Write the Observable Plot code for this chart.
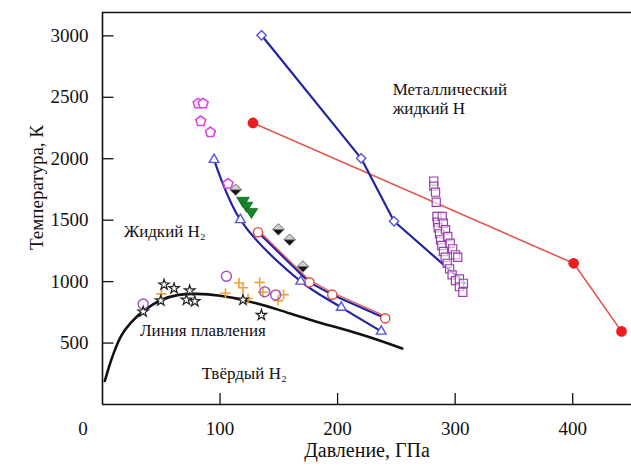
<!DOCTYPE html>
<html><head><meta charset="utf-8">
<script src="https://cdn.jsdelivr.net/npm/d3@7"></script>
<script src="https://cdn.jsdelivr.net/npm/@observablehq/plot@0.6"></script>
<style>body{margin:0;background:#fff} svg{display:block}</style>
</head><body><div id="chart"></div>
<script>
// ---- axis ticks ----
const xTicks = [100, 200, 300, 400];
const yTicks = [500, 1000, 1500, 2000, 2500, 3000];
const xDomain = [0, 450];
const yDomain = [0, 3190];

// ---- series (pressure GPa, temperature K) ----
const blueDiamondP = [135.3, 220, 248, 308];
const blueDiamondT = [3005, 2003, 1491, 988];
const redFilledP = [128, 400.8, 441.5];
const redFilledT = [2291, 1149, 595];
const blueTriP = [94.9, 117.3, 168.6, 203.1, 237.1];
const blueTriT = [1993, 1503, 1002, 790, 595];
const redOpenP = [132.3, 176, 195.5, 240.5];
const redOpenT = [1402, 994, 894, 701];
const pentP = [81.3, 85.6, 83.6, 91.8, 106.8];
const pentT = [2449, 2449, 2305, 2215, 1796];
const blackDiaP = [113.3, 149.6, 159.2, 170.5];
const blackDiaT = [1747, 1424, 1340, 1122];
const greenP = [119.5, 122.5, 126.7];
const greenT = [1655, 1615, 1565];
const plusP = [104.6, 116.1, 119.5, 123.8, 133.7, 136.5, 149.3, 154.1, 50.2];
const plusT = [905, 989, 950, 862, 994, 913, 845, 894, 900];
const purpleCircP = [34.6, 105.4, 138, 147.3];
const purpleCircT = [818, 1043, 918, 892];
const starP = [34.6, 49.6, 52.4, 60.9, 74.2, 71.4, 78.5, 119.5, 135.2];
const starT = [755, 845, 975, 945, 927, 851, 839, 851, 728];
const squareP = [281.8, 281.8, 283.3, 283.9,
  284.5, 285, 285.5, 286.7, 287.5, 288.6, 290, 291.5, 293.2, 295.3, 297.4, 300.3, 303.6, 306.5,
  289, 290, 291.8, 293.7, 295.8, 297.9, 300.3, 302.2, 303.6, 307];
const squareT = [1818, 1777, 1728, 1646,
  1530, 1484, 1438, 1389, 1340, 1294, 1245, 1198, 1149, 1104, 1055, 1008, 959, 913,
  1530, 1475, 1422, 1367, 1312, 1267, 1218, 1198, 1022, 986];
const meltP = [2, 6, 10, 16, 24, 35, 50, 65, 80, 100, 122, 150, 180, 220, 255];
const meltT = [192, 320, 430, 560, 665, 762, 850, 892, 900, 885, 845, 770, 680, 570, 456];

// ---- annotations ----
const annoText = ["Металлический\nжидкий H", "Жидкий H₂", "Линия плавления", "Твёрдый H₂"];
const annoP = [246.8, 18.2, 31.9, 84.5];
const annoT = [2489, 1416, 608, 257];
const xLabel = "Давление, ГПа";
const yLabel = "Температура, К";

const zip = (P, T) => P.map((p, i) => ({p, t: T[i]}));

const pentagon = {draw(ctx, size) {
  const r = Math.sqrt(size / Math.PI);
  for (let i = 0; i < 5; i++) {
    const a = -Math.PI / 2 + i * 2 * Math.PI / 5;
    const x = r * Math.cos(a), y = r * Math.sin(a);
    i ? ctx.lineTo(x, y) : ctx.moveTo(x, y);
  }
  ctx.closePath();
}};
const triDown = {draw(ctx, size) {
  const r = Math.sqrt(size / Math.PI) * 1.15;
  ctx.moveTo(-r, -r * 0.6); ctx.lineTo(r, -r * 0.6); ctx.lineTo(0, r); ctx.closePath();
}};
const diaTop = {draw(ctx, size) {
  const r = Math.sqrt(size / Math.PI) * 1.15;
  ctx.moveTo(-r, 0); ctx.lineTo(0, -r); ctx.lineTo(r, 0); ctx.closePath();
}};
const diaFull = {draw(ctx, size) {
  const r = Math.sqrt(size / Math.PI) * 1.15;
  ctx.moveTo(-r, 0); ctx.lineTo(0, -r); ctx.lineTo(r, 0); ctx.lineTo(0, r); ctx.closePath();
}};

const F = "Liberation Serif, DejaVu Serif, serif";
const navy = "#2323a3";
const lightBlue = "#5555dd";
const fmt = (d) => String(d);

const chart = Plot.plot({
  width: 631, height: 466,
  marginLeft: 102, marginRight: 0, marginTop: 12, marginBottom: 62,
  style: {fontFamily: F, color: "#111", background: "#fff"},
  x: {domain: xDomain},
  y: {domain: yDomain},
  marks: [
    // axes
    Plot.axisX({ticks: xTicks, tickSize: 0, tickPadding: 17, fontSize: 19, tickFormat: fmt, label: null, fontFamily: F}),
    Plot.axisX({ticks: xTicks, tickSize: -11, tickFormat: () => "", label: null, strokeWidth: 1.3}),
    Plot.axisY({ticks: yTicks, tickSize: 0, tickPadding: 14, fontSize: 19, tickFormat: fmt, label: null, fontFamily: F}),
    Plot.axisY({ticks: yTicks, tickSize: -11.5, tickFormat: () => "", label: null, strokeWidth: 1.3}),
    Plot.text([{p: 0, t: 0}], {x: "p", y: "t", text: () => "0", lineAnchor: "top", dy: 17, dx: -19.5, fontSize: 19, fontFamily: F}),
    Plot.ruleX([0], {stroke: "#111", strokeWidth: 1.6}),
    Plot.ruleY([yDomain[0], yDomain[1]], {stroke: "#111", strokeWidth: 1.6}),
    Plot.text([xLabel], {frameAnchor: "bottom", dy: 52, fontSize: 20, fontFamily: F}),
    Plot.text([yLabel], {frameAnchor: "left", textAnchor: "middle", rotate: -90, dx: -66, dy: -21, fontSize: 19, fontFamily: F}),

    // melting curve
    Plot.line(zip(meltP, meltT), {x: "p", y: "t", stroke: "#111", strokeWidth: 2.6, curve: "natural"}),

    // lines
    Plot.line(zip(redFilledP, redFilledT), {x: "p", y: "t", stroke: "#e8554f", strokeWidth: 1.6}),
    Plot.line(zip(blueDiamondP, blueDiamondT), {x: "p", y: "t", stroke: navy, strokeWidth: 2.2}),
    Plot.line(zip(blueTriP, blueTriT), {x: "p", y: "t", stroke: navy, strokeWidth: 2.2, curve: "catmull-rom"}),
    Plot.line(zip(redOpenP, redOpenT), {x: "p", y: "t", stroke: navy, strokeWidth: 2.2}),
    Plot.line(zip(redOpenP, redOpenT), {x: "p", y: "t", stroke: "#e8554f", strokeWidth: 1.2, dy: -2.2}),

    // markers
    Plot.dot(zip(squareP, squareT), {x: "p", y: "t", symbol: "square", r: 4.6, fill: "#fff", fillOpacity: 0.6, stroke: "#9b3fae", strokeWidth: 1.2}),
    Plot.dot(zip(plusP, plusT), {x: "p", y: "t", symbol: "plus", r: 3.4, stroke: "#f4a233", strokeWidth: 1.6}),
    Plot.dot(zip(purpleCircP, purpleCircT), {x: "p", y: "t", symbol: "circle", r: 5, fill: "none", stroke: "#a455c4", strokeWidth: 1.5}),
    Plot.dot(zip(starP, starT), {x: "p", y: "t", symbol: "star", r: 3.3, fill: "#fff", stroke: "#222", strokeWidth: 1.2}),
    Plot.dot(zip(pentP, pentT), {x: "p", y: "t", symbol: pentagon, r: 5.2, fill: "#fff", stroke: "#e040e8", strokeWidth: 1.6}),
    Plot.dot(zip(blackDiaP, blackDiaT), {x: "p", y: "t", symbol: diaFull, r: 5, fill: "#111", stroke: "#888", strokeWidth: 1}),
    Plot.dot(zip(blackDiaP, blackDiaT), {x: "p", y: "t", symbol: diaTop, r: 5, fill: "#cfcfcf", stroke: "#777", strokeWidth: 0.8}),
    Plot.dot(zip(greenP, greenT), {x: "p", y: "t", symbol: triDown, r: 5.5, fill: "#16862a", stroke: "#0f6a1f", strokeWidth: 0.8}),
    Plot.dot(zip(redOpenP, redOpenT), {x: "p", y: "t", symbol: "circle", r: 4.6, fill: "#fff", stroke: "#e5473f", strokeWidth: 1.4}),
    Plot.dot(zip(blueTriP, blueTriT), {x: "p", y: "t", symbol: "triangle2", r: 4.6, fill: "#fff", stroke: lightBlue, strokeWidth: 1.4}),
    Plot.dot(zip(blueDiamondP.slice(0, 3), blueDiamondT.slice(0, 3)), {x: "p", y: "t", symbol: "diamond2", r: 4.2, fill: "#fff", stroke: lightBlue, strokeWidth: 1.4}),
    Plot.dot(zip(redFilledP, redFilledT), {x: "p", y: "t", symbol: "circle", r: 4.6, fill: "#ee1c1c", stroke: "#ee1c1c"}),

    // annotations
    Plot.text(zip(annoP, annoT).map((d, i) => ({...d, s: annoText[i]})), {x: "p", y: "t", text: "s", textAnchor: "start", fontSize: 17, lineHeight: 1.12, fill: "#111", fontFamily: F})
  ]
});
document.getElementById("chart").appendChild(chart);
</script></body></html>
